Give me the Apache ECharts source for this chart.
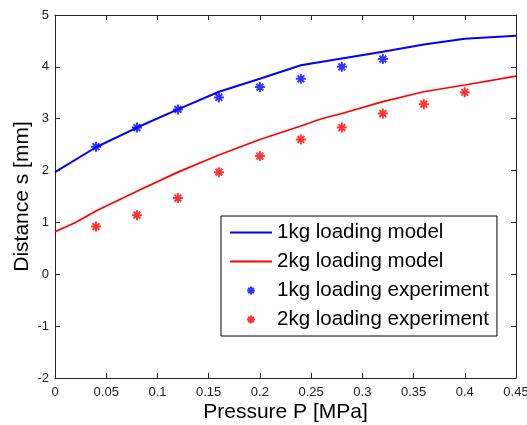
<!DOCTYPE html>
<html>
<head>
<meta charset="utf-8">
<script src="https://cdn.jsdelivr.net/npm/echarts@6/dist/echarts.min.js"></script>
<style>
  html, body { margin: 0; padding: 0; background: #fff; }
  #chart { width: 527px; height: 425px; }
</style>
</head>
<body>
<div id="chart"></div>
<script>
// Pressure values [MPa] and displacement s [mm]
const modelP1 = [0, 0.04, 0.08, 0.12, 0.16, 0.20, 0.24, 0.28, 0.32, 0.36, 0.40, 0.45];
const model1kg = [1.97, 2.45, 2.83, 3.18, 3.52, 3.77, 4.03, 4.16, 4.29, 4.43, 4.54, 4.60];

const modelP2 = [0, 0.02, 0.04, 0.08, 0.12, 0.16, 0.20, 0.24, 0.26, 0.28, 0.32, 0.36, 0.40, 0.45];
const model2kg = [0.82, 1.00, 1.22, 1.60, 1.97, 2.30, 2.60, 2.86, 3.00, 3.10, 3.33, 3.52, 3.65, 3.82];

const expP1 = [0.04, 0.08, 0.12, 0.16, 0.20, 0.24, 0.28, 0.32];
const exp1kg = [2.46, 2.83, 3.18, 3.41, 3.61, 3.77, 4.00, 4.15];

const expP2 = [0.04, 0.08, 0.12, 0.16, 0.20, 0.24, 0.28, 0.32, 0.36, 0.40];
const exp2kg = [0.92, 1.14, 1.47, 1.97, 2.28, 2.60, 2.83, 3.10, 3.28, 3.51];

const xTickLabels = ['0', '0.05', '0.1', '0.15', '0.2', '0.25', '0.3', '0.35', '0.4', '0.45'];
const yTickLabels = ['-2', '-1', '0', '1', '2', '3', '4', '5'];

const seriesNames = ['1kg loading model', '2kg loading model', '1kg loading experiment', '2kg loading experiment'];

const pairs = (xs, ys) => xs.map((x, i) => [x, ys[i]]);

// asterisk marker: plus + cross strokes
const asterisk = 'path://M0,5L10,5M5,0L5,10M1.6,1.6L8.4,8.4M1.6,8.4L8.4,1.6';
// thin bar used as the legend sample of a line
const lineIcon = 'path://M0,0h42v2h-42z';

const font = '"Liberation Sans", Arial, Helvetica, sans-serif';
const axisColor = '#262626';

const chart = echarts.init(document.getElementById('chart'), null, { renderer: 'canvas' });

const baseX = {
  type: 'value', min: 0, max: 0.45, interval: 0.05,
  axisLine: { show: true, onZero: false, lineStyle: { color: axisColor, width: 1 } },
  axisTick: { show: true, inside: true, length: 5, lineStyle: { color: axisColor } },
  splitLine: { show: false }
};
const baseY = {
  type: 'value', min: -2, max: 5, interval: 1,
  axisLine: { show: true, onZero: false, lineStyle: { color: axisColor, width: 1 } },
  axisTick: { show: true, inside: true, length: 5, lineStyle: { color: axisColor } },
  splitLine: { show: false }
};

chart.setOption({
  backgroundColor: '#ffffff',
  animation: false,
  grid: { left: 55, right: 11, top: 15, bottom: 47, containLabel: false, outerBoundsMode: 'none' },
  xAxis: [
    Object.assign({}, baseX, {
      position: 'bottom',
      name: 'Pressure P [MPa]',
      nameLocation: 'middle',
      nameGap: 24,
      nameMoveOverlap: false,
      nameTextStyle: { fontFamily: font, fontSize: 21, color: '#000' },
      axisLabel: {
        margin: 8, fontFamily: font, fontSize: 13, color: '#222',
        formatter: v => xTickLabels[Math.round(v / 0.05)]
      }
    }),
    Object.assign({}, baseX, { position: 'top', axisLabel: { show: false } })
  ],
  yAxis: [
    Object.assign({}, baseY, {
      position: 'left',
      name: 'Distance s [mm]',
      nameLocation: 'middle',
      nameGap: 22,
      nameMoveOverlap: false,
      nameTextStyle: { fontFamily: font, fontSize: 21, color: '#000' },
      axisLabel: {
        margin: 6, fontFamily: font, fontSize: 13, color: '#222',
        formatter: v => yTickLabels[Math.round(v + 2)]
      }
    }),
    Object.assign({}, baseY, { position: 'right', axisLabel: { show: false } })
  ],
  legend: {
    orient: 'vertical',
    left: 221, top: 216,
    padding: [6, 8, 6, 9],
    itemGap: 8,
    itemWidth: 42,
    itemHeight: 8,
    borderColor: '#000', borderWidth: 1,
    backgroundColor: '#fff',
    textStyle: { fontFamily: font, fontSize: 20.5, lineHeight: 20, color: '#000' },
    data: [
      { name: seriesNames[0], icon: lineIcon },
      { name: seriesNames[1], icon: lineIcon },
      { name: seriesNames[2] },
      { name: seriesNames[3] }
    ]
  },
  series: [
    {
      name: seriesNames[0], type: 'line', data: pairs(modelP1, model1kg),
      symbol: 'none', lineStyle: { color: '#0000ff', width: 2 }, itemStyle: { color: '#0000ff' }, z: 3
    },
    {
      name: seriesNames[1], type: 'line', data: pairs(modelP2, model2kg),
      symbol: 'none', lineStyle: { color: '#ff0000', width: 1.7 }, itemStyle: { color: '#ff0000' }, z: 3
    },
    {
      name: seriesNames[2], type: 'scatter', data: pairs(expP1, exp1kg),
      symbol: asterisk, symbolSize: 10,
      itemStyle: { color: '#0000ff', borderColor: '#0000ff', borderWidth: 2 }, z: 4
    },
    {
      name: seriesNames[3], type: 'scatter', data: pairs(expP2, exp2kg),
      symbol: asterisk, symbolSize: 10,
      itemStyle: { color: '#ff0000', borderColor: '#ff0000', borderWidth: 2 }, z: 4
    }
  ]
});
</script>
</body>
</html>
